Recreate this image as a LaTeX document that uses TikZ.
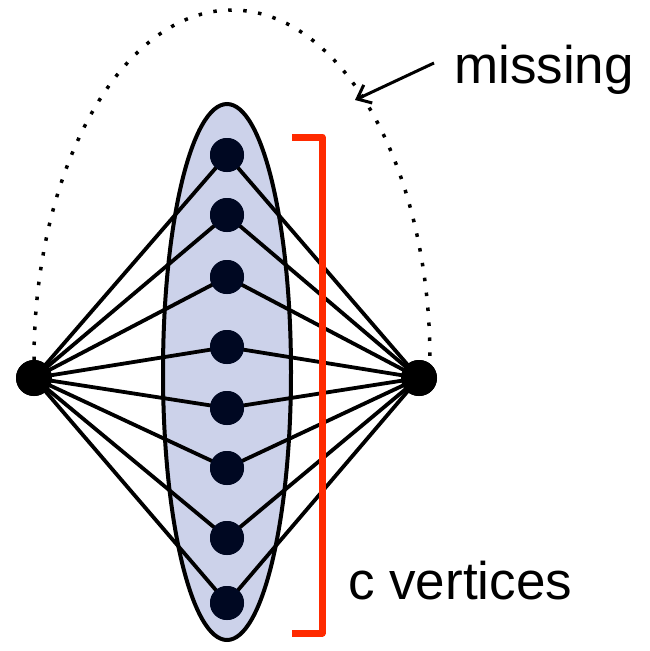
\documentclass[tikz,border=0pt]{standalone}
\usepackage{fontspec}
\setmainfont{Liberation Sans}
\usetikzlibrary{arrows.meta}
\definecolor{lav}{HTML}{CCD2EA}
\definecolor{vdark}{HTML}{000822}
\definecolor{bred}{HTML}{FF2A00}
\begin{document}
\begin{tikzpicture}[x=1pt,y=1pt,
  vert/.style={circle,fill=vdark,inner sep=0pt,minimum size=34pt},
  endv/.style={circle,fill=black,inner sep=0pt,minimum size=36pt},
  edge/.style={line width=3.8pt,black},
  lbl/.style={font=\fontsize{53}{53}\selectfont,inner sep=0pt}]
\useasboundingbox (0,0) rectangle (650,-651);
\draw[line width=4pt,fill=lav] (227,-372) ellipse[x radius=64,y radius=268];
\node[endv] (L) at (34,-378) {};
\node[endv] (R) at (419,-378) {};
\foreach \i/\y in {1/155,2/215,3/277,4/347,5/408,6/468,7/538,8/603}{
  \node[vert] (m\i) at (227,-\y) {};
}
\foreach \i in {1,...,8}{
  \draw[edge] (L.center) -- (m\i.center);
  \draw[edge] (R.center) -- (m\i.center);
}
\foreach \i in {1,...,8}{\node[vert] at (m\i) {};}
\node[endv] at (L) {};
\node[endv] at (R) {};
\draw[line width=3.5pt,dash pattern=on 3.5pt off 11.5pt] (34,-360) arc[start angle=180,end angle=0,x radius=198,y radius=350];
\draw[line width=7pt,bred,line join=round] (292,-137) -- (322,-137) -- (322,-633) -- (292,-633);
\node[lbl] (miss) at (544,-70) {missing};
\coordinate (tip) at (355,-100);
\draw[line width=3pt,-{Straight Barb[length=12pt,width=20pt]}] (434,-63) -- (tip);
\node[lbl,anchor=base west] (cv) at (348,-599) {c vertices};
\end{tikzpicture}
\end{document}
